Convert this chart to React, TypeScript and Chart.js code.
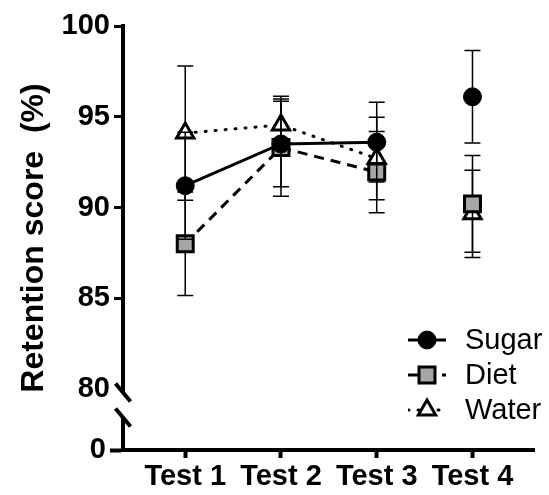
import React, { useEffect, useRef } from 'react';
import { Chart, registerables } from 'chart.js';

Chart.register(...registerables);

const FONT = "'Liberation Sans', Arial, Helvetica, sans-serif";

const categories = ['Test 1', 'Test 2', 'Test 3', 'Test 4'];
const seriesNames = ['Sugar', 'Diet', 'Water'];
const sugar = [91.2, 93.5, 93.6, 96.1];
const sugarSem = [2.95, 2.35, 2.2, 2.55];
const diet = [88.0, 93.3, 91.95, 90.2];
const dietSem = [2.85, 2.68, 2.24, 2.66];
const water = [94.1, 94.55, 92.7, 89.65];
const waterSem = [3.7, 1.58, 2.27, 2.4];
const upperTicks = [80, 85, 90, 95, 100];
const lowerTicks = [0];
const yTitle = 'Retention score  (%)';

const sems = [sugarSem, dietSem, waterSem];

const toPts = (vals: number[]) => vals.map((v, i) => ({ x: i + 1, y: v }));
const gapSegment = {
  borderColor: (ctx: any) => (ctx.p0DataIndex === 2 ? 'rgba(0,0,0,0)' : undefined),
};

const errorBarPlugin = {
  id: 'errorBars',
  beforeDatasetDraw(chart: any, args: any) {
    const i = args.index;
    const sem = sems[i];
    const ds = chart.data.datasets[i];
    const xs = chart.scales.x;
    const ys = chart.scales.y;
    const ctx = chart.ctx;
    ctx.save();
    ctx.strokeStyle = '#000';
    ctx.lineWidth = 1.5;
    ctx.setLineDash([]);
    ds.data.forEach((p: any, j: number) => {
      const x = xs.getPixelForValue(p.x);
      const yt = ys.getPixelForValue(p.y + sem[j]);
      const yb = ys.getPixelForValue(p.y - sem[j]);
      ctx.beginPath();
      ctx.moveTo(x, yt);
      ctx.lineTo(x, yb);
      ctx.moveTo(x - 8, yt);
      ctx.lineTo(x + 8, yt);
      ctx.moveTo(x - 8, yb);
      ctx.lineTo(x + 8, yb);
      ctx.stroke();
    });
    ctx.restore();
  },
};

function drawMarker(ctx: CanvasRenderingContext2D, ds: any, x: number, y: number) {
  const r = ds.pointRadius;
  ctx.save();
  ctx.setLineDash([]);
  ctx.fillStyle = ds.pointBackgroundColor;
  ctx.strokeStyle = ds.pointBorderColor;
  ctx.lineWidth = ds.pointBorderWidth;
  ctx.beginPath();
  if (ds.pointStyle === 'circle') {
    ctx.arc(x, y, r, 0, Math.PI * 2);
  } else if (ds.pointStyle === 'rect') {
    const s = Math.SQRT1_2 * r;
    ctx.rect(x - s, y - s, 2 * s, 2 * s);
  } else {
    let a = 0;
    for (let k = 0; k < 3; k++) {
      const px = x + Math.sin(a) * r;
      const py = y - Math.cos(a) * r;
      if (k === 0) ctx.moveTo(px, py);
      else ctx.lineTo(px, py);
      a += (2 * Math.PI) / 3;
    }
    ctx.closePath();
  }
  ctx.fill();
  ctx.stroke();
  ctx.restore();
}

const decorPlugin = {
  id: 'decor',
  afterDraw(chart: any) {
    const ctx: CanvasRenderingContext2D = chart.ctx;
    const ys = chart.scales.y;
    const area = chart.chartArea;
    const x0 = area.left;
    const yb = ys.getPixelForValue(80);
    ctx.save();
    // axis break
    ctx.fillStyle = '#fff';
    ctx.fillRect(x0 - 3, yb + 4, 6, 24);
    ctx.strokeStyle = '#000';
    ctx.lineWidth = 4;
    ctx.lineCap = 'butt';
    [yb + 3.5, yb + 28.5].forEach((cy) => {
      ctx.beginPath();
      ctx.moveTo(x0 - 7.5, cy - 9);
      ctx.lineTo(x0 + 7.5, cy + 9);
      ctx.stroke();
    });
    ctx.restore();

    // y title
    ctx.save();
    ctx.translate(43, (area.top + area.bottom) / 2);
    ctx.rotate(-Math.PI / 2);
    ctx.font = `bold 32px ${FONT}`;
    ctx.textAlign = 'center';
    ctx.textBaseline = 'alphabetic';
    ctx.fillStyle = '#000';
    ctx.fillText(yTitle, 0, 0);
    ctx.restore();

    // legend
    const rows = [340, 375, 410];
    chart.data.datasets.forEach((ds: any, i: number) => {
      const y = rows[i];
      ctx.save();
      ctx.beginPath();
      ctx.rect(408, y - 10, 38, 20);
      ctx.clip();
      ctx.strokeStyle = ds.borderColor;
      ctx.lineWidth = ds.borderWidth;
      ctx.lineCap = ds.borderCapStyle || 'butt';
      ctx.setLineDash(ds.borderDash || []);
      ctx.beginPath();
      ctx.moveTo(408, y);
      ctx.lineTo(446, y);
      ctx.stroke();
      ctx.restore();
      drawMarker(ctx, ds, 427, y);
      ctx.save();
      ctx.font = `29px ${FONT}`;
      ctx.fillStyle = '#000';
      ctx.textAlign = 'left';
      ctx.textBaseline = 'middle';
      ctx.fillText(seriesNames[i], 465, y + 1);
      ctx.restore();
    });
  },
};

export default function App() {
  const ref = useRef<HTMLCanvasElement | null>(null);
  useEffect(() => {
    document.body.style.margin = '0';
    if (!ref.current) return;
    const tickFont = { family: FONT, size: 29, weight: 'bold' as const };
    const chart = new Chart(ref.current, {
      type: 'line',
      data: {
        datasets: [
          {
            label: seriesNames[0],
            data: toPts(sugar),
            yAxisID: 'y',
            borderColor: '#000',
            borderWidth: 3,
            pointStyle: 'circle',
            pointRadius: 9,
            pointBackgroundColor: '#000',
            pointBorderColor: '#000',
            pointBorderWidth: 1,
            segment: gapSegment,
          },
          {
            label: seriesNames[1],
            data: toPts(diet),
            yAxisID: 'y',
            borderColor: '#000',
            borderWidth: 3,
            borderDash: [10, 7],
            pointStyle: 'rect',
            pointRadius: 11.3,
            pointBackgroundColor: '#a6a6a6',
            pointBorderColor: '#000',
            pointBorderWidth: 3,
            segment: gapSegment,
          },
          {
            label: seriesNames[2],
            data: toPts(water),
            yAxisID: 'y',
            borderColor: '#000',
            borderWidth: 3,
            borderDash: [1, 9],
            borderCapStyle: 'round',
            pointStyle: 'triangle',
            pointRadius: 10,
            pointBackgroundColor: '#fff',
            pointBorderColor: '#000',
            pointBorderWidth: 3,
            segment: gapSegment,
          },
        ] as any,
      },
      options: {
        responsive: false,
        maintainAspectRatio: false,
        devicePixelRatio: 1,
        animation: false,
        events: [],
        layout: { padding: { top: 26, right: 0, bottom: 0, left: 0 } },
        plugins: { legend: { display: false }, tooltip: { enabled: false } },
        scales: {
          x: {
            type: 'linear',
            min: 0.35,
            max: 4.65,
            afterBuildTicks: (s: any) => {
              s.ticks = categories.map((_, i) => ({ value: i + 1 }));
            },
            afterFit: (s: any) => {
              s.height = 45;
            },
            ticks: {
              callback: (v: any) => categories[Math.round(Number(v)) - 1] ?? '',
              font: tickFont,
              color: '#000',
              padding: 2,
              maxRotation: 0,
              autoSkip: false,
            },
            grid: {
              drawOnChartArea: false,
              drawTicks: true,
              tickLength: 8,
              tickWidth: 4,
              tickColor: '#000',
              color: '#000',
            },
            border: { display: true, width: 4, color: '#000' },
          },
          y: {
            type: 'linear',
            position: 'left',
            stack: 'ystack',
            stackWeight: 363,
            weight: 1,
            min: 80,
            max: 100,
            afterBuildTicks: (s: any) => {
              s.ticks = upperTicks.map((v) => ({ value: v }));
            },
            afterFit: (s: any) => {
              s.width = 123;
            },
            ticks: { font: tickFont, color: '#000', padding: 4 },
            grid: {
              drawOnChartArea: false,
              drawTicks: true,
              tickLength: 9,
              tickWidth: 3,
              tickColor: (ctx: any) => (ctx.tick && ctx.tick.value === 80 ? 'rgba(0,0,0,0)' : '#000'),
              color: '#000',
            },
            border: { display: true, width: 4, color: '#000' },
          },
          yLow: {
            type: 'linear',
            position: 'left',
            stack: 'ystack',
            stackWeight: 61,
            weight: 0,
            min: 0,
            max: 10,
            afterBuildTicks: (s: any) => {
              s.ticks = lowerTicks.map((v) => ({ value: v }));
            },
            afterFit: (s: any) => {
              s.width = 123;
            },
            ticks: { font: tickFont, color: '#000', padding: 4 },
            grid: {
              drawOnChartArea: false,
              drawTicks: true,
              tickLength: 13,
              tickWidth: 4,
              tickColor: '#000',
              color: '#000',
            },
            border: { display: true, width: 4, color: '#000' },
          },
        } as any,
      },
      plugins: [errorBarPlugin, decorPlugin],
    });
    return () => chart.destroy();
  }, []);
  return <canvas ref={ref} width={549} height={495} style={{ display: 'block', width: 549, height: 495 }} />;
}
